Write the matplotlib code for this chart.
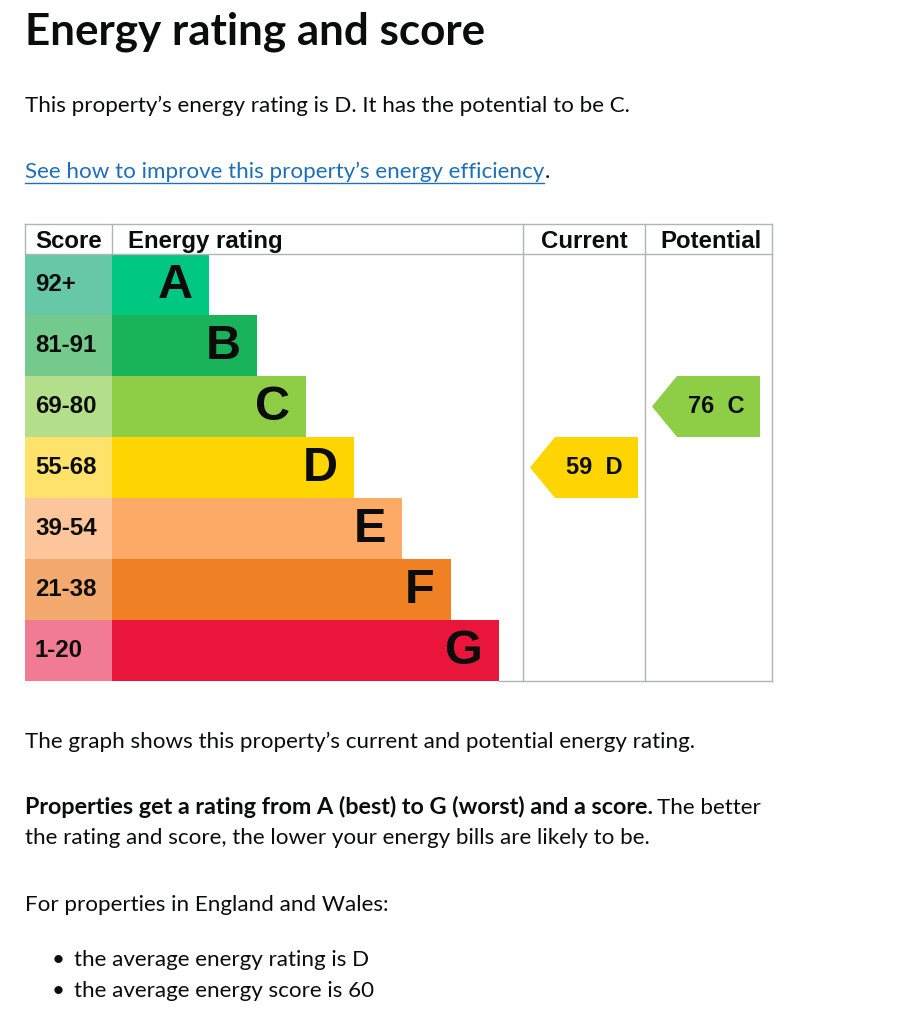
import matplotlib
matplotlib.use("Agg")
import matplotlib.pyplot as plt
from matplotlib.patches import Rectangle, Polygon

# ---------------- data ----------------
bands = ["A", "B", "C", "D", "E", "F", "G"]
score_ranges = ["92+", "81-91", "69-80", "55-68", "39-54", "21-38", "1-20"]
bar_units = [2, 3, 4, 5, 6, 7, 8]
bar_colors = ["#00c781", "#19b459", "#8dce46", "#ffd500", "#fcaa65", "#ef8023", "#e9153b"]
score_colors = ["#66c8a6", "#74c98d", "#b4df8a", "#ffe26a", "#fdc69a", "#f4aa6e", "#f07b92"]
current_score = 59
current_band = "D"
potential_score = 76
potential_band = "C"

# ---------------- layout ----------------
W, H = 923, 1024
fig = plt.figure(figsize=(W / 100, H / 100), dpi=100)
ax = fig.add_axes([0, 0, 1, 1])
ax.set_xlim(0, W)
ax.set_ylim(H, 0)
ax.axis("off")

BODY = "Lato"
CHART = "Liberation Sans"
GRID = "#b1b4b6"
INK = "#0b0c0c"
FS = 16.1
CFS = 17.3

left = 25
score_w = 87
top = 224
head_h = 30
row_h = 61
unit = 48.4
cur_x0, cur_x1 = 523, 645
pot_x1 = 772
bottom = top + head_h + row_h * len(bands)

# heading and intro texts
ax.text(left, 45, "Energy rating and score", fontsize=31.7, fontweight="bold",
        family=BODY, color=INK, va="baseline", ha="left")
ax.text(left, 112, "This property\u2019s energy rating is D. It has the potential to be C.",
        fontsize=FS, family=BODY, color=INK, va="baseline", ha="left")
link = ax.text(left, 178, "See how to improve this property\u2019s energy efficiency",
               fontsize=FS, family=BODY, color="#1d70b8", va="baseline", ha="left")
fig.canvas.draw()
r = fig.canvas.get_renderer()
x_end = link.get_window_extent(r).x1
ax.plot([left, x_end], [183, 183], color="#1d70b8", lw=1.0)
ax.text(x_end + 1, 178, ".", fontsize=FS, family=BODY, color=INK,
        va="baseline", ha="left")

# ---------------- chart ----------------
row_top = lambda i: top + head_h + i * row_h
for i, b in enumerate(bands):
    y0 = row_top(i)
    ax.add_patch(Rectangle((left, y0), score_w, row_h, facecolor=score_colors[i],
                           edgecolor="none"))
    bw = bar_units[i] * unit
    ax.add_patch(Rectangle((left + score_w, y0), bw, row_h, facecolor=bar_colors[i],
                           edgecolor="none"))
    ax.text(left + 10, y0 + row_h / 2, score_ranges[i], fontsize=CFS, fontweight="bold",
            family=CHART, color=INK, va="center", ha="left")
    ax.text(left + score_w + bw - 16, y0 + row_h / 2 + 1, b, fontsize=35,
            fontweight="bold", family=CHART, color=INK, va="center", ha="right")

# grid lines
lw = 1.0
ax.plot([left, pot_x1], [top, top], color=GRID, lw=lw)
ax.plot([left, pot_x1], [top + head_h, top + head_h], color=GRID, lw=lw)
ax.plot([left, left], [top, top + head_h], color=GRID, lw=lw)
ax.plot([left + score_w, left + score_w], [top, top + head_h], color=GRID, lw=lw)
for x in (cur_x0, cur_x1, pot_x1):
    ax.plot([x, x], [top, bottom], color=GRID, lw=lw)
ax.plot([cur_x0 - 24, pot_x1], [bottom, bottom], color=GRID, lw=lw)

# headers
hy = top + 24
ax.text(left + 10, hy, "Score", fontsize=CFS, fontweight="bold", family=CHART,
        color=INK, va="baseline", ha="left")
ax.text(left + score_w + 16, hy, "Energy rating", fontsize=CFS, fontweight="bold",
        family=CHART, color=INK, va="baseline", ha="left")
ax.text((cur_x0 + cur_x1) / 2, hy, "Current", fontsize=CFS, fontweight="bold",
        family=CHART, color=INK, va="baseline", ha="center")
ax.text((cur_x1 + pot_x1) / 2 + 3, hy, "Potential", fontsize=CFS, fontweight="bold",
        family=CHART, color=INK, va="baseline", ha="center")


def arrow(col_x0, band, score):
    i = bands.index(band)
    y0 = row_top(i)
    y1 = y0 + row_h
    xl = col_x0 + 7
    xr = xl + 108
    pts = [(xl, (y0 + y1) / 2), (xl + 25, y0), (xr, y0), (xr, y1), (xl + 25, y1)]
    ax.add_patch(Polygon(pts, closed=True, facecolor=bar_colors[i], edgecolor="none"))
    ax.text((xl + 25 + xr) / 2 - 2, (y0 + y1) / 2, f"{score}  {band}", fontsize=17,
            fontweight="bold", family=CHART, color=INK, va="center", ha="center")


arrow(cur_x0, current_band, current_score)
arrow(cur_x1, potential_band, potential_score)

# ---------------- text below ----------------
ax.text(left, 748, "The graph shows this property\u2019s current and potential energy rating.",
        fontsize=FS, family=BODY, color=INK, va="baseline", ha="left")
bold = ax.text(left, 814, "Properties get a rating from A (best) to G (worst) and a score.",
               fontsize=16.8, family=BODY, fontweight="bold", color=INK,
               va="baseline", ha="left")
fig.canvas.draw()
bx = bold.get_window_extent(r).x1
ax.text(bx + 4, 814, "The better", fontsize=FS, family=BODY, color=INK,
        va="baseline", ha="left")
ax.text(left, 844, "the rating and score, the lower your energy bills are likely to be.",
        fontsize=FS, family=BODY, color=INK, va="baseline", ha="left")
ax.text(left, 911, "For properties in England and Wales:", fontsize=FS, family=BODY,
        color=INK, va="baseline", ha="left")
for yb, t in [(966, "the average energy rating is D"), (997, "the average energy score is 60")]:
    ax.text(52, yb, "\u2022", fontsize=FS, family=BODY, color=INK,
            va="baseline", ha="left")
    ax.text(74, yb, t, fontsize=FS, family=BODY, color=INK,
            va="baseline", ha="left")

fig.savefig("out.png", dpi=100, facecolor="white")
